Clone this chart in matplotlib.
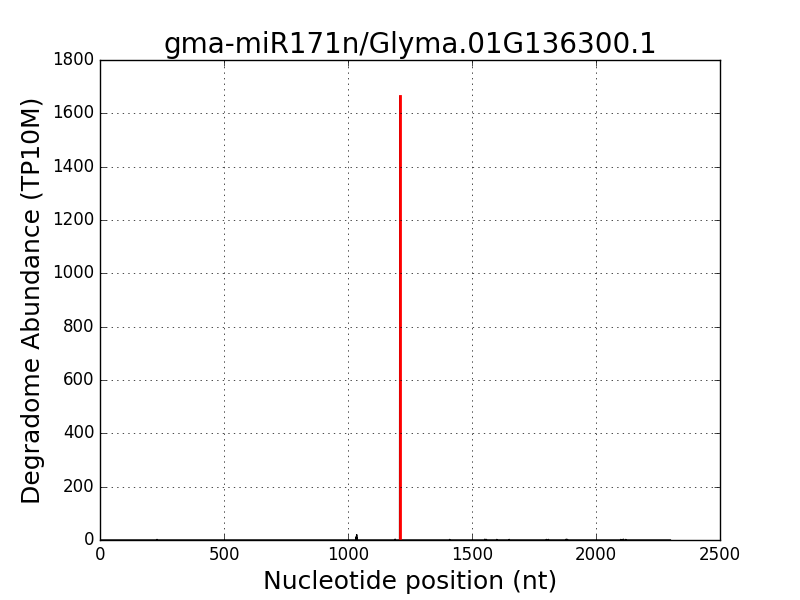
import matplotlib
matplotlib.use("Agg")
import matplotlib.pyplot as plt
import numpy as np

title = "gma-miR171n/Glyma.01G136300.1"
transcript_len = 2300
# degradome peaks (position, abundance)
peak_pos = [230, 1033, 1035, 1037, 1190, 1410, 1552, 1558, 1600, 1650, 1800, 1808, 1880, 1885, 2100, 2110, 2120]
peak_val = [2, 12, 20, 8, 3, 2, 3, 2, 2, 2, 2, 2, 3, 2, 2, 3, 2]
target_pos = 1209
target_val = 1665

x = np.arange(1, transcript_len + 1)
y = np.zeros_like(x, dtype=float)
for p, v in zip(peak_pos, peak_val):
    y[p - 1] = v
y[target_pos - 1] = target_val

plt.style.use("classic")
fig = plt.figure(figsize=(8, 6), dpi=100, facecolor="white")
ax = fig.add_subplot(111)
fig.subplots_adjust(left=0.125, right=0.9, top=0.9, bottom=0.1)
ax.plot(x, y, color="black", lw=1)
ax.plot([target_pos, target_pos], [0, target_val], color="red", lw=2)
ax.set_xlim(0, 2500)
ax.set_ylim(0, 1800)
ax.set_xticks(np.arange(0, 2501, 500))
ax.set_yticks(np.arange(0, 1801, 200))
ax.grid(True, linestyle=":", color="black")
ax.set_title(title, fontsize=20)
ax.set_xlabel("Nucleotide position (nt)", fontsize=18)
ax.set_ylabel("Degradome Abundance (TP10M)", fontsize=18)
ax.tick_params(labelsize=12)
fig.savefig("out.png", dpi=100, facecolor="white")
